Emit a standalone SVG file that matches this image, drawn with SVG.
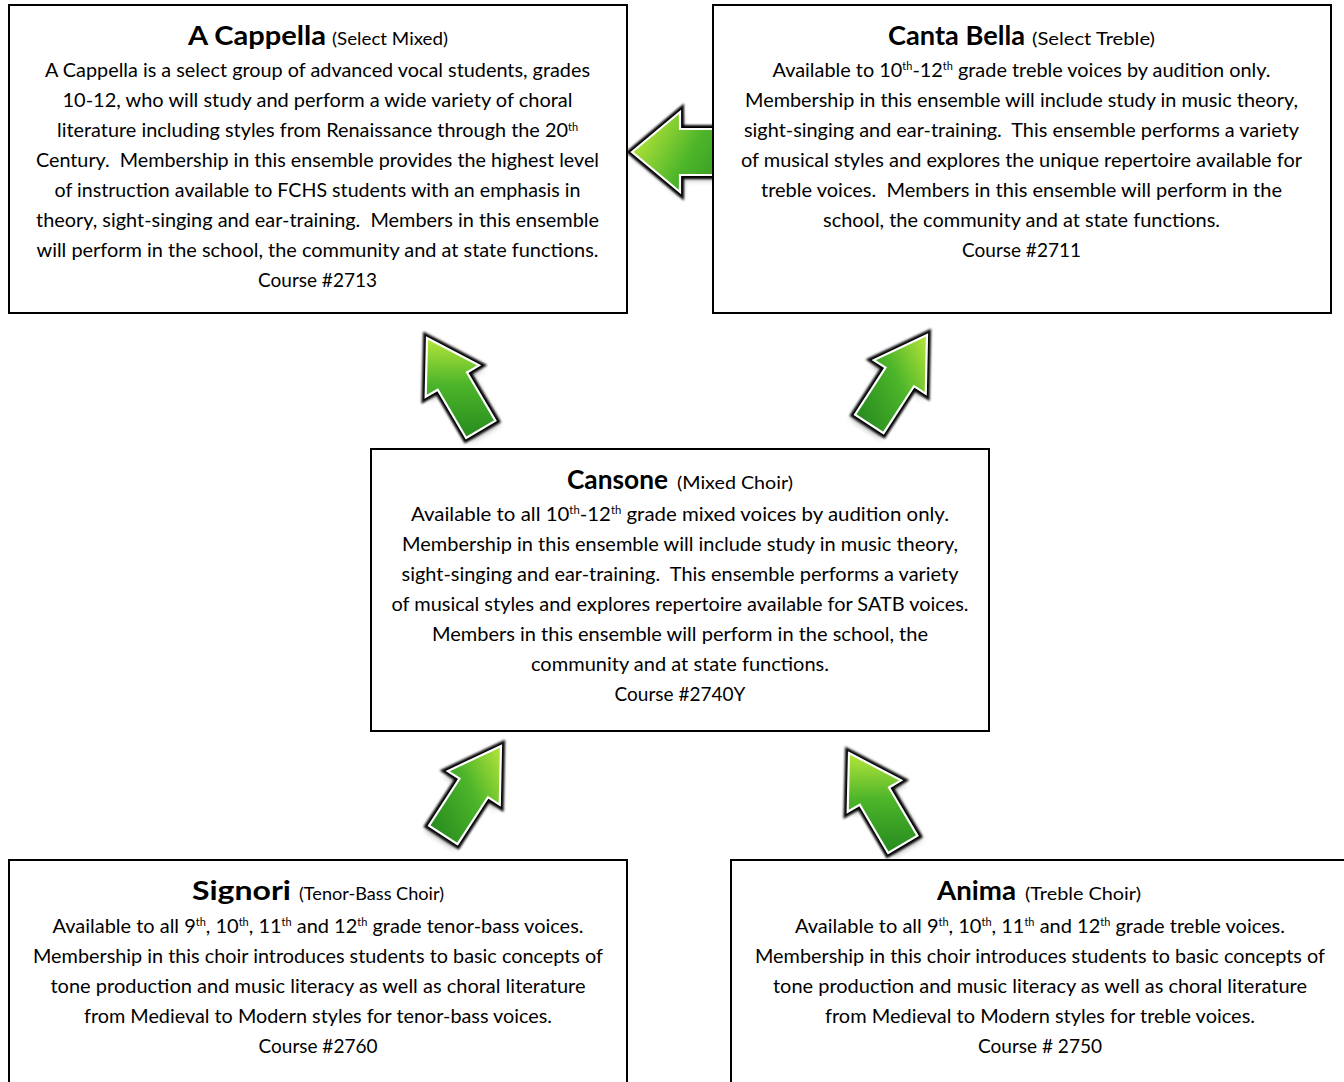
<svg xmlns="http://www.w3.org/2000/svg" xmlns:xlink="http://www.w3.org/1999/xlink" width="1344" height="1082" viewBox="0 0 1344 1082">
<style>
.box{fill:#fff;stroke:#000;stroke-width:2}
text{font-family:Lato,"Liberation Sans",sans-serif;fill:#000;text-anchor:middle}
.b{font-size:20px}
.t{font-size:27px;font-weight:bold;text-anchor:start}
.s{font-size:18px;text-anchor:start}
.sup{font-size:11px}
.outline{fill:none;stroke:#000;stroke-width:8;stroke-linejoin:miter}
.shadow{fill:#444;opacity:0.55}
.fillA{stroke:#fff;stroke-width:2.2;stroke-linejoin:miter}
</style>
<defs>
<path id="ad" d="M0,0 L31,50 L17,50 L17,106 L-17,106 L-17,50 L-31,50 Z"/>
<path id="ah" d="M0,0 L40,48 L23,48 L23,120 L-23,120 L-23,48 L-40,48 Z"/>
<linearGradient id="gd" gradientUnits="userSpaceOnUse" x1="-22" y1="95" x2="26" y2="15">
<stop offset="0" stop-color="#2a9020"/>
<stop offset="0.5" stop-color="#4db52a"/>
<stop offset="1" stop-color="#b8e63a"/>
</linearGradient>
<linearGradient id="gh" gradientUnits="userSpaceOnUse" x1="-30" y1="110" x2="30" y2="10">
<stop offset="0" stop-color="#2a9020"/>
<stop offset="0.5" stop-color="#4db52a"/>
<stop offset="1" stop-color="#b8e63a"/>
</linearGradient>
<filter id="soft" x="-30%" y="-30%" width="160%" height="160%"><feGaussianBlur stdDeviation="1"/></filter>
<filter id="blur" x="-30%" y="-30%" width="160%" height="160%"><feGaussianBlur stdDeviation="3"/></filter>
</defs>

<g id="connectors">
  <g id="arrow-cantabella-acappella" transform="translate(632,152)">
    <use xlink:href="#ah" class="shadow" filter="url(#blur)" transform="translate(2,4) rotate(-90)"/>
    <use xlink:href="#ah" class="outline" filter="url(#soft)" transform="rotate(-90)"/>
    <use xlink:href="#ah" class="fillA" fill="url(#gh)" transform="rotate(-90)"/>
  </g>
  <g id="arrow-cansone-acappella" transform="translate(427,338)">
    <use xlink:href="#ad" class="shadow" filter="url(#blur)" transform="translate(4,3) rotate(-30.5)"/>
    <use xlink:href="#ad" class="outline" filter="url(#soft)" transform="rotate(-30.5)"/>
    <use xlink:href="#ad" class="fillA" fill="url(#gd)" transform="rotate(-30.5)"/>
  </g>
  <g id="arrow-cansone-cantabella" transform="translate(927,335)">
    <use xlink:href="#ad" class="shadow" filter="url(#blur)" transform="translate(-3,4) rotate(33)"/>
    <use xlink:href="#ad" class="outline" filter="url(#soft)" transform="rotate(33)"/>
    <use xlink:href="#ad" class="fillA" fill="url(#gd)" transform="rotate(33)"/>
  </g>
  <g id="arrow-signori-cansone" transform="translate(501,746)">
    <use xlink:href="#ad" class="shadow" filter="url(#blur)" transform="translate(-3,4) rotate(33)"/>
    <use xlink:href="#ad" class="outline" filter="url(#soft)" transform="rotate(33)"/>
    <use xlink:href="#ad" class="fillA" fill="url(#gd)" transform="rotate(33)"/>
  </g>
  <g id="arrow-anima-cansone" transform="translate(849,753)">
    <use xlink:href="#ad" class="shadow" filter="url(#blur)" transform="translate(4,3) rotate(-30.5)"/>
    <use xlink:href="#ad" class="outline" filter="url(#soft)" transform="rotate(-30.5)"/>
    <use xlink:href="#ad" class="fillA" fill="url(#gd)" transform="rotate(-30.5)"/>
  </g>
</g>

<g id="acappella">
  <rect class="box" x="9" y="5" width="618" height="308"/>
  <text class="t" x="188" y="45" textLength="138" lengthAdjust="spacingAndGlyphs">A Cappella</text>
  <text class="s" x="332" y="45" textLength="116" lengthAdjust="spacingAndGlyphs">(Select Mixed)</text>
  <text class="b" x="317.5" y="77" textLength="545" lengthAdjust="spacingAndGlyphs">A Cappella is a select group of advanced vocal students, grades</text>
  <text class="b" x="317.5" y="107" textLength="510" lengthAdjust="spacingAndGlyphs">10-12, who will study and perform a wide variety of choral</text>
  <text class="b" x="317.5" y="137" textLength="521" lengthAdjust="spacingAndGlyphs">literature including styles from Renaissance through the 20<tspan class="sup" dy="-6">th</tspan></text>
  <text class="b" x="317.5" y="167" textLength="563" lengthAdjust="spacingAndGlyphs">Century.&#160; Membership in this ensemble provides the highest level</text>
  <text class="b" x="317.5" y="197" textLength="526" lengthAdjust="spacingAndGlyphs">of instruction available to FCHS students with an emphasis in</text>
  <text class="b" x="317.5" y="227" textLength="563" lengthAdjust="spacingAndGlyphs">theory, sight-singing and ear-training.&#160; Members in this ensemble</text>
  <text class="b" x="317.5" y="257" textLength="562" lengthAdjust="spacingAndGlyphs">will perform in the school, the community and at state functions.</text>
  <text class="b" x="317.5" y="287" textLength="119" lengthAdjust="spacingAndGlyphs">Course #2713</text>
</g>

<g id="cantabella">
  <rect class="box" x="713" y="5" width="618" height="308"/>
  <text class="t" x="888" y="45" textLength="137" lengthAdjust="spacingAndGlyphs">Canta Bella</text>
  <text class="s" x="1032" y="45" textLength="123" lengthAdjust="spacingAndGlyphs">(Select Treble)</text>
  <text class="b" x="1021.5" y="77" textLength="498" lengthAdjust="spacingAndGlyphs">Available to 10<tspan class="sup" dy="-7">th</tspan><tspan dy="7">-12</tspan><tspan class="sup" dy="-7">th</tspan><tspan dy="7"> grade treble voices by audition only.</tspan></text>
  <text class="b" x="1021.5" y="107" textLength="553" lengthAdjust="spacingAndGlyphs">Membership in this ensemble will include study in music theory,</text>
  <text class="b" x="1021.5" y="137" textLength="555" lengthAdjust="spacingAndGlyphs">sight-singing and ear-training.&#160; This ensemble performs a variety</text>
  <text class="b" x="1021.5" y="167" textLength="561" lengthAdjust="spacingAndGlyphs">of musical styles and explores the unique repertoire available for</text>
  <text class="b" x="1021.5" y="197" textLength="521" lengthAdjust="spacingAndGlyphs">treble voices.&#160; Members in this ensemble will perform in the</text>
  <text class="b" x="1021.5" y="227" textLength="397" lengthAdjust="spacingAndGlyphs">school, the community and at state functions.</text>
  <text class="b" x="1021.5" y="257" textLength="119" lengthAdjust="spacingAndGlyphs">Course #2711</text>
</g>

<g id="cansone">
  <rect class="box" x="371" y="449" width="618" height="282"/>
  <text class="t" x="567" y="489" textLength="101" lengthAdjust="spacingAndGlyphs">Cansone</text>
  <text class="s" x="677" y="489" textLength="116" lengthAdjust="spacingAndGlyphs">(Mixed Choir)</text>
  <text class="b" x="680" y="521" textLength="538" lengthAdjust="spacingAndGlyphs">Available to all 10<tspan class="sup" dy="-7">th</tspan><tspan dy="7">-12</tspan><tspan class="sup" dy="-7">th</tspan><tspan dy="7"> grade mixed voices by audition only.</tspan></text>
  <text class="b" x="680" y="551" textLength="556" lengthAdjust="spacingAndGlyphs">Membership in this ensemble will include study in music theory,</text>
  <text class="b" x="680" y="581" textLength="557" lengthAdjust="spacingAndGlyphs">sight-singing and ear-training.&#160; This ensemble performs a variety</text>
  <text class="b" x="680" y="611" textLength="577" lengthAdjust="spacingAndGlyphs">of musical styles and explores repertoire available for SATB voices.</text>
  <text class="b" x="680" y="641" textLength="496" lengthAdjust="spacingAndGlyphs">Members in this ensemble will perform in the school, the</text>
  <text class="b" x="680" y="671" textLength="298" lengthAdjust="spacingAndGlyphs">community and at state functions.</text>
  <text class="b" x="680" y="701" textLength="131" lengthAdjust="spacingAndGlyphs">Course #2740Y</text>
</g>

<g id="signori">
  <rect class="box" x="9" y="860" width="618" height="240"/>
  <text class="t" x="192" y="900" textLength="99" lengthAdjust="spacingAndGlyphs">Signori</text>
  <text class="s" x="299" y="900" textLength="145" lengthAdjust="spacingAndGlyphs">(Tenor-Bass Choir)</text>
  <text class="b" x="318" y="933" textLength="531" lengthAdjust="spacingAndGlyphs">Available to all 9<tspan class="sup" dy="-7">th</tspan><tspan dy="7">, 10</tspan><tspan class="sup" dy="-7">th</tspan><tspan dy="7">, 11</tspan><tspan class="sup" dy="-7">th</tspan><tspan dy="7"> and 12</tspan><tspan class="sup" dy="-7">th</tspan><tspan dy="7"> grade tenor-bass voices.</tspan></text>
  <text class="b" x="318" y="963" textLength="570" lengthAdjust="spacingAndGlyphs">Membership in this choir introduces students to basic concepts of</text>
  <text class="b" x="318" y="993" textLength="535" lengthAdjust="spacingAndGlyphs">tone production and music literacy as well as choral literature</text>
  <text class="b" x="318" y="1023" textLength="468" lengthAdjust="spacingAndGlyphs">from Medieval to Modern styles for tenor-bass voices.</text>
  <text class="b" x="318" y="1053" textLength="119" lengthAdjust="spacingAndGlyphs">Course #2760</text>
</g>

<g id="anima">
  <rect class="box" x="731" y="860" width="618" height="240"/>
  <text class="t" x="937" y="900" textLength="79" lengthAdjust="spacingAndGlyphs">Anima</text>
  <text class="s" x="1025" y="900" textLength="116" lengthAdjust="spacingAndGlyphs">(Treble Choir)</text>
  <text class="b" x="1040" y="933" textLength="490" lengthAdjust="spacingAndGlyphs">Available to all 9<tspan class="sup" dy="-7">th</tspan><tspan dy="7">, 10</tspan><tspan class="sup" dy="-7">th</tspan><tspan dy="7">, 11</tspan><tspan class="sup" dy="-7">th</tspan><tspan dy="7"> and 12</tspan><tspan class="sup" dy="-7">th</tspan><tspan dy="7"> grade treble voices.</tspan></text>
  <text class="b" x="1040" y="963" textLength="570" lengthAdjust="spacingAndGlyphs">Membership in this choir introduces students to basic concepts of</text>
  <text class="b" x="1040" y="993" textLength="534" lengthAdjust="spacingAndGlyphs">tone production and music literacy as well as choral literature</text>
  <text class="b" x="1040" y="1023" textLength="430" lengthAdjust="spacingAndGlyphs">from Medieval to Modern styles for treble voices.</text>
  <text class="b" x="1040" y="1053" textLength="124" lengthAdjust="spacingAndGlyphs">Course # 2750</text>
</g>
</svg>
